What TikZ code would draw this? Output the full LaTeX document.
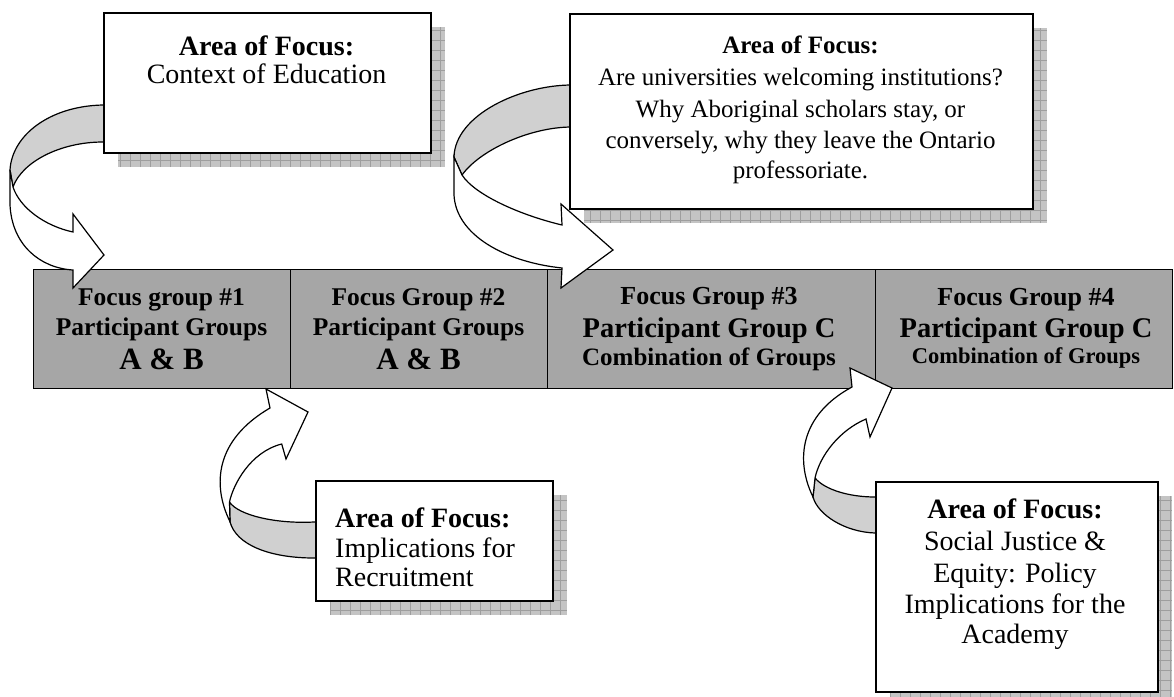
\documentclass[tikz,border=0pt]{standalone}
\usepackage{fontspec}
\setmainfont{Liberation Serif}
\definecolor{barfill}{RGB}{166,166,166}
\definecolor{ribbongray}{RGB}{208,208,208}
\definecolor{shadowbase}{RGB}{196,196,196}
\definecolor{shadowline}{RGB}{158,158,158}
\newcommand{\fsz}[1]{\fontsize{#1}{#1}\selectfont}
\newcommand{\shadowrect}[4]{%
  \fill[shadowbase] (#1,#2) rectangle (#3,#4);
  \begin{scope}
    \clip (#1,#2) rectangle (#3,#4);
    \draw[shadowline, line width=0.5pt] (#1,#2) grid[step=10pt] (#3,#4);
  \end{scope}}
\tikzset{
  areabox/.style={draw=black, line width=1.6pt, fill=white, anchor=north west, inner sep=0pt},
  barbox/.style={draw=black, line width=1.4pt, fill=barfill, anchor=north west, inner sep=0pt},
  ribbonback/.style={draw=black, line width=1.2pt, fill=ribbongray, line join=round},
  ribbonfront/.style={draw=black, line width=1.2pt, fill=white, line join=miter},
  txt/.style={anchor=base, inner sep=0pt},
  txtl/.style={anchor=base west, inner sep=0pt}
}
\begin{document}
\begin{tikzpicture}[x=1pt, y=-1pt]
\clip (0,0) rectangle (1174,696);
\fill[white] (0,0) rectangle (1174,696);

% shadows
\shadowrect{118}{27}{445}{167}
\shadowrect{584}{28}{1047}{223}
\shadowrect{330}{495}{567}{615}
\shadowrect{890}{496}{1172}{706}

% bar of focus groups
\node[barbox, minimum width=257pt, minimum height=119pt] (b1) at (33,269) {};
\node[barbox, minimum width=257pt, minimum height=119pt] (b2) at (290,269) {};
\node[barbox, minimum width=328pt, minimum height=119pt] (b3) at (547,269) {};
\node[barbox, minimum width=297pt, minimum height=119pt] (b4) at (875,269) {};

% ribbon arrow 1 (top left)
\path[ribbonback] (112,105) -- (103,105) .. controls (50,106) and (12,135) .. (10,170)
  -- (13,187) .. controls (22,162) and (60,142) .. (103,142) -- (112,142) -- cycle;
\path[ribbonfront] (10,170) -- (10,205) .. controls (12,245) and (40,268) .. (73,270)
  -- (73,288) -- (104,255) -- (73,214) -- (73,232)
  .. controls (45,226) and (20,208) .. (13,187) -- cycle;

% ribbon arrow 2 (top right)
\path[ribbonback] (580,85) -- (572,85) .. controls (520,85) and (455,115) .. (454,157)
  -- (462,175) .. controls (480,150) and (530,127) .. (572,127) -- (580,127) -- cycle;
\path[ribbonfront] (454,157) -- (454,195) .. controls (456,235) and (505,262) .. (562,268)
  -- (561,288) -- (613,250) -- (561,204) -- (562,225)
  .. controls (520,215) and (475,195) .. (462,175) -- cycle;

% ribbon arrow 3 (bottom left)
\path[ribbonback] (322,522) -- (314,522) .. controls (275,524) and (238,515) .. (229.5,502)
  -- (230,521.7) .. controls (236,545) and (270,558) .. (314,558) -- (322,558) -- cycle;
\path[ribbonfront] (230,521.7) .. controls (212,485) and (215,440) .. (270,408)
  -- (266,389) -- (308,412) -- (286,459) -- (281.7,444)
  .. controls (250,452) and (233,485) .. (229.5,502) -- cycle;

% ribbon arrow 4 (bottom right)
\path[ribbonback] (883,497) -- (875,497) .. controls (850,497) and (825,490) .. (815,478)
  -- (813,497) .. controls (818,515) and (845,532) .. (875,533) -- (883,533) -- cycle;
\path[ribbonfront] (813,497) .. controls (795,460) and (800,415) .. (852,387)
  -- (850,368) -- (892,388) -- (870,437) -- (866,419)
  .. controls (840,430) and (820,455) .. (815,478) -- cycle;

% area of focus boxes
\node[areabox, minimum width=327pt, minimum height=140pt] (tl) at (103,12) {};
\node[areabox, minimum width=463pt, minimum height=195pt] (tr) at (569,13) {};
\node[areabox, minimum width=237pt, minimum height=120pt] (bl) at (315,480) {};
\node[areabox, minimum width=282pt, minimum height=210pt] (br) at (875,481) {};

% texts of top left box
\node[txt, font=\fsz{28}\bfseries] (tl1) at (266.5,55) {Area of Focus:};
\node[txt, font=\fsz{28}] (tl2) at (266.5,83) {Context of Education};

% texts of top right box
\node[txt, font=\fsz{25}\bfseries] (tr1) at (800.5,53) {Area of Focus:};
\node[txt, font=\fsz{25}] (tr2) at (800.5,85) {Are universities welcoming institutions?};
\node[txt, font=\fsz{25}] (tr3) at (800.5,117) {Why Aboriginal scholars stay, or};
\node[txt, font=\fsz{25}] (tr4) at (800.5,148) {conversely, why they leave the Ontario};
\node[txt, font=\fsz{25}] (tr5) at (800.5,178) {professoriate.};

% texts of bottom left box
\node[txtl, font=\fsz{28}\bfseries] (bl1) at (335,527) {Area of Focus:};
\node[txtl, font=\fsz{28}] (bl2) at (335,557) {Implications for};
\node[txtl, font=\fsz{28}] (bl3) at (335,586) {Recruitment};

% texts of bottom right box
\node[txt, font=\fsz{28}\bfseries] (br1) at (1015,518) {Area of Focus:};
\node[txt, font=\fsz{28}] (br2) at (1015,550) {Social Justice \&};
\node[txt, font=\fsz{28}] (br3) at (1015,582) {Equity: Policy};
\node[txt, font=\fsz{28}] (br4) at (1015,613) {Implications for the};
\node[txt, font=\fsz{28}] (br5) at (1015,643) {Academy};

% texts of the bar
\node[txt, font=\fsz{25.5}\bfseries] (b1a) at (161.5,305) {Focus group \#1};
\node[txt, font=\fsz{25.5}\bfseries] (b1b) at (161.5,335) {Participant Groups};
\node[txt, font=\fsz{31}\bfseries] (b1c) at (161.5,369) {A \& B};

\node[txt, font=\fsz{25.5}\bfseries] (b2a) at (418.5,305) {Focus Group \#2};
\node[txt, font=\fsz{25.5}\bfseries] (b2b) at (418.5,335) {Participant Groups};
\node[txt, font=\fsz{31}\bfseries] (b2c) at (418.5,369) {A \& B};

\node[txt, font=\fsz{26}\bfseries] (b3a) at (709,304) {Focus Group \#3};
\node[txt, font=\fsz{28.5}\bfseries] (b3b) at (709,337) {Participant Group C};
\node[txt, font=\fsz{25}\bfseries] (b3c) at (709,365) {Combination of Groups};

\node[txt, font=\fsz{26}\bfseries] (b4a) at (1026,305) {Focus Group \#4};
\node[txt, font=\fsz{28.5}\bfseries] (b4b) at (1026,337) {Participant Group C};
\node[txt, font=\fsz{22.5}\bfseries] (b4c) at (1026,363) {Combination of Groups};
\end{tikzpicture}
\end{document}
